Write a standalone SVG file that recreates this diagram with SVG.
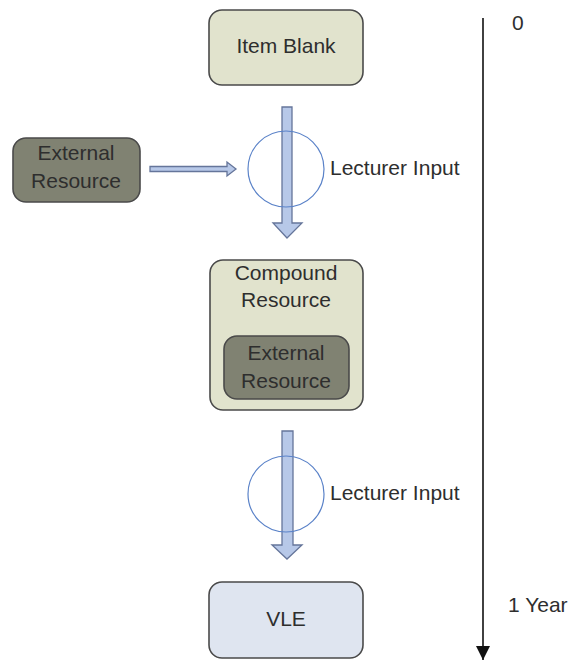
<svg xmlns="http://www.w3.org/2000/svg" width="571" height="662" viewBox="0 0 571 662">
  <style>
    .lbl { font-family: "Liberation Sans", Arial, sans-serif; font-size: 21px; fill: #2e2e2e; }
    .mid { text-anchor: middle; }
    .box { stroke: #4a4a4a; stroke-width: 1.6; }
    .pale { fill: #e1e3cd; }
    .dark { fill: #808272; }
    .blue { fill: #dfe5f0; }
    .flow { fill: #b7c8e8; stroke: #65759a; stroke-width: 1.3; }
    .ring { fill: none; stroke: #5a82c8; stroke-width: 1.2; }
  </style>
  <defs>
    <marker id="tip" markerWidth="14" markerHeight="14" refX="14" refY="7" orient="auto" markerUnits="userSpaceOnUse" viewBox="0 0 14 14">
      <path d="M0,0 L14,7 L0,14 Z" fill="#111"/>
    </marker>
  </defs>
  <rect width="571" height="662" fill="#ffffff"/>

  <g id="item-blank">
    <rect class="box pale" x="209" y="10" width="154" height="75" rx="13"/>
    <text class="lbl mid" x="286" y="53">Item Blank</text>
  </g>

  <g id="external-resource">
    <rect class="box dark" x="13" y="138" width="127" height="64" rx="13"/>
    <text class="lbl mid" x="76" y="160">External</text>
    <text class="lbl mid" x="76" y="188">Resource</text>
  </g>

  <g id="compound-resource">
    <rect class="box pale" x="210" y="260" width="153" height="150" rx="13"/>
    <text class="lbl mid" x="286" y="280">Compound</text>
    <text class="lbl mid" x="286" y="307">Resource</text>
    <g id="external-resource-inner">
      <rect class="box dark" x="224" y="336" width="125" height="63" rx="13"/>
      <text class="lbl mid" x="286" y="360">External</text>
      <text class="lbl mid" x="286" y="388">Resource</text>
    </g>
  </g>

  <g id="vle">
    <rect class="box blue" x="209" y="582" width="154" height="76" rx="13"/>
    <text class="lbl mid" x="286" y="626">VLE</text>
  </g>

  <g id="connectors">
    <!-- external resource feeding into the first input step -->
    <polygon class="flow" points="150,166.5 227,166.5 227,162 236,169 227,176 227,171.5 150,171.5"/>
    <!-- first lecturer input step -->
    <polygon class="flow" points="282,107 292,107 292,223 302,223 287,238 273,223 282,223"/>
    <circle class="ring" cx="286" cy="169" r="38"/>
    <!-- second lecturer input step -->
    <polygon class="flow" points="282,431 293,431 293,545 302,545 287,559 272,545 282,545"/>
    <circle class="ring" cx="286" cy="494" r="38"/>
    <!-- timeline -->
    <line x1="483" y1="18" x2="483" y2="660" stroke="#111" stroke-width="1.6" marker-end="url(#tip)"/>
  </g>

  <g id="labels">
    <text class="lbl" x="330" y="175">Lecturer Input</text>
    <text class="lbl" x="330" y="500">Lecturer Input</text>
    <text class="lbl" x="512" y="30">0</text>
    <text class="lbl" x="508" y="612">1 Year</text>
  </g>
</svg>
